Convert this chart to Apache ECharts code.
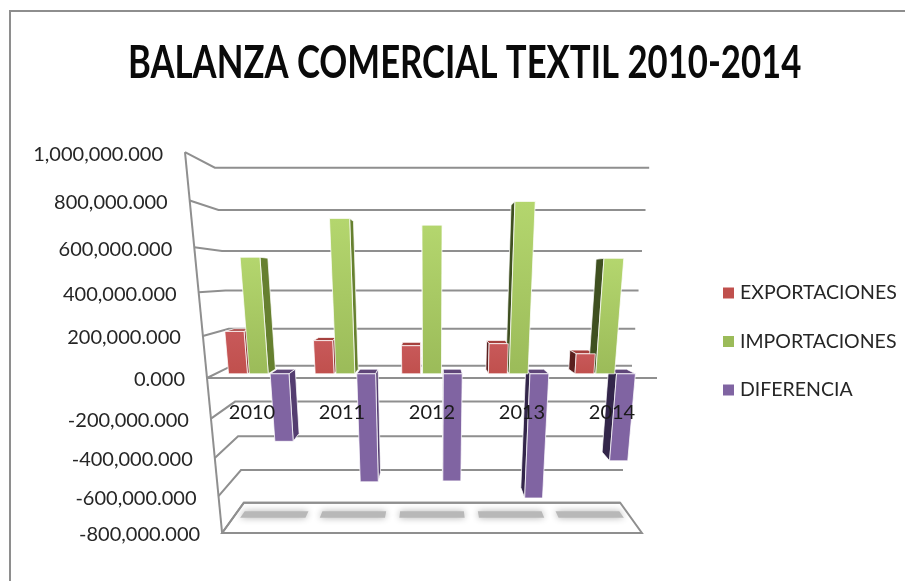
<!DOCTYPE html>
<html><head><meta charset="utf-8">
<style>html,body{margin:0;padding:0;background:#fff}#c{width:905px;height:581px}</style>
<script src="https://cdn.jsdelivr.net/npm/echarts@6/dist/echarts.min.js"></script>
</head><body><div id="c"></div>
<script>
const titleText = 'BALANZA COMERCIAL TEXTIL 2010-2014';
const categories = ['2010','2011','2012','2013','2014'];
const exportaciones = [210000,165000,140000,150000,100000];
const importaciones = [560000,735000,705000,810000,555000];
const diferencia = [-350000,-570000,-565000,-660000,-455000];
const yTicks = [1000000,800000,600000,400000,200000,0,-200000,-400000,-600000,-800000];
const yTickLabels = ['1,000,000.000','800,000.000','600,000.000','400,000.000','200,000.000','0.000','-200,000.000','-400,000.000','-600,000.000','-800,000.000'];

const FONT = 'Lato,"Liberation Sans",sans-serif';
const GRID = {left:207, top:152, width:450, height:406.8};
const ZERO_Y = GRID.top + GRID.height*(1000000/1800000);
const UNIT = GRID.height/9, CX = 432;
const LINE = '#8f8f8f';
const lerp=(a,b,t)=>a+(b-a)*t;

// Oblique 3D look of the original: warps the library's axis coordinates onto a receding box. d=0 front, d=1 back wall.
function warp(p,d){
  const v=(ZERO_Y-p[1])/UNIT;
  const fy=378-41.37*v/(1-0.0169*v);
  const by=365.7-36.44*v/(1-0.01597*v);
  const sf=1+(378-fy)*0.000433;
  const sb=0.889+(365.7-by)*0.000385;
  return [CX+(p[0]-CX)*lerp(sf,sb,d), lerp(fy,by,d)];
}
const D0=0.34,D1=0.72;
function barRender(offset,front,frontTop,top,side){
  return function(params,api){
    const c=api.value(0), val=api.value(1);
    const band=api.size([1,0])[0];
    const w=band*0.218, step=band*0.24;
    const cen=api.coord([c,val]), base=api.coord([c,0]);
    const x0=cen[0]+offset*step-w/2, x1=x0+w;
    const P=(x,y,d)=>warp([x,y],d);
    const yT=cen[1]<base[1]?cen[1]:base[1], yB=cen[1]<base[1]?base[1]:cen[1];
    const sideX=(x0+x1)/2<CX?x1:x0;
    const sideCol=side[(x0+x1)/2<CX?0:1];
    const st={stroke:'rgba(255,255,255,0.75)',lineWidth:1};
    const kids=[
      {type:'polygon',z2:1,shape:{points:[P(x0,yT,D0),P(x1,yT,D0),P(x1,yT,D1),P(x0,yT,D1)]},style:{fill:top,...st}},
      {type:'polygon',z2:1,shape:{points:[P(sideX,yT,D0),P(sideX,yT,D1),P(sideX,yB,D1),P(sideX,yB,D0)]},style:{fill:sideCol,...st}},
      {type:'polygon',z2:2,shape:{points:[P(x0,yT,D0),P(x1,yT,D0),P(x1,yB,D0),P(x0,yB,D0)]},
        style:{fill:new echarts.graphic.LinearGradient(0,0,0,1,[{offset:0,color:frontTop},{offset:1,color:front}]),...st}}
    ];
    return {type:'group',children:kids};
  };
}
function wallRender(params,api){
  const tick=api.value(1);
  const L=api.coord([0,tick]);
  const lp=[GRID.left,L[1]], rp=[GRID.left+GRID.width,L[1]];
  const a=warp(lp,0), b=warp(lp,1), r=warp(rp,1);
  const stl={fill:'none',stroke:LINE,lineWidth:2};
  const kids=[{type:'polyline',shape:{points:[a,b,r]},style:stl}];
  if(tick===0) kids.push({type:'polyline',shape:{points:[a,warp(rp,0)]},style:stl});
  kids.push({type:'text',style:{text:yTickLabels[params.dataIndex],x:a[0]-22,y:a[1]+2,align:'right',verticalAlign:'middle',
    font:'20px '+FONT,fill:'#262626'}});
  if(params.dataIndex===0){
    const bot=api.coord([0,yTicks[yTicks.length-1]]);
    const lb=[GRID.left,bot[1]], rb=[GRID.left+GRID.width,bot[1]];
    const pts=[];[L[1],bot[1]].forEach(y=>pts.push(warp([GRID.left,y],0)));
    kids.push({type:'polyline',shape:{points:pts},style:stl});
    kids.push({type:'polygon',shape:{points:[warp(lb,0),warp(rb,0),warp(rb,1),warp(lb,1)]},
      style:{fill:'#fff',stroke:LINE,lineWidth:2}});
  }
  return {type:'group',children:kids};
}
function shadowRender(params,api){
  const p=api.coord([api.value(0),api.value(1)]);
  const hw=api.size([1,0])[0]*0.41;
  const pts=[warp([p[0]-hw,p[1]],0.72),warp([p[0]+hw,p[1]],0.72),warp([p[0]+hw,p[1]],0.5),warp([p[0]-hw,p[1]],0.5)];
  return {type:'polygon',shape:{points:pts},style:{fill:'#b8b8b8',shadowBlur:7,shadowColor:'#b0b0b0'}};
}
const chart=echarts.init(document.getElementById('c'),null,{renderer:'canvas'});
const barSeries=(name,data,offset,front,frontTop,top,side)=>({
  name,type:'custom',z:2,coordinateSystem:'cartesian2d',itemStyle:{color:front},
  encode:{x:0,y:1},clip:false,
  data:data.map((v,i)=>[i,v]),
  renderItem:barRender(offset,front,frontTop,top,side)
});
chart.setOption({
  animation:false,
  backgroundColor:'#fff',
  legend:{data:['EXPORTACIONES','IMPORTACIONES','DIFERENCIA'],orient:'vertical',left:723,top:283,padding:0,
    icon:'rect',itemWidth:11,itemHeight:11,itemGap:28.5,
    textStyle:{fontFamily:FONT,fontSize:19.5,color:'#262626',padding:[0,0,0,1]}},
  grid:{left:GRID.left,top:GRID.top,width:GRID.width,height:GRID.height,containLabel:false,outerBoundsMode:'none'},
  xAxis:{type:'category',data:categories,z:10,axisLine:{onZero:false,show:false},axisTick:{show:false},splitLine:{show:false},
      axisLabel:{show:true,margin:-156,fontFamily:FONT,fontSize:20,color:'#1a1a1a'}},
  yAxis:{type:'value',min:-800000,max:1000000,interval:200000,show:false},
  graphic:[
    {type:'polyline',silent:true,z:-1,shape:{points:[[10,581],[10,11],[905,11]]},style:{fill:'none',stroke:'#8e8e8e',lineWidth:2}},
    {type:'text',silent:true,x:128,y:63,scaleX:0.826,scaleY:1.08,style:{text:titleText,x:0,y:0,align:'left',verticalAlign:'middle',font:'bold 42px '+FONT,fill:'#0a0a0a'}}
  ],
  series:[
    {name:'frame',type:'custom',z:1,clip:false,encode:{x:0,y:1},data:yTicks.map(t=>[0,t]),renderItem:wallRender},
    {name:'floor',type:'custom',z:1,clip:false,encode:{x:0,y:1},data:categories.map((c,i)=>[i,yTicks[yTicks.length-1]]),renderItem:shadowRender},
    barSeries('EXPORTACIONES',exportaciones,-1,'#C0504D','#C8595A','#A5403D',['#8C3432','#5A1F1E']),
    barSeries('IMPORTACIONES',importaciones,0,'#9BBB59','#B4D66E',"#7f9a48",['#66802F','#3F5020']),
    barSeries('DIFERENCIA',diferencia,1,'#8064A2','#8064A2','#5F4679',['#543D70','#33264A'])
  ]
});
</script></body></html>
